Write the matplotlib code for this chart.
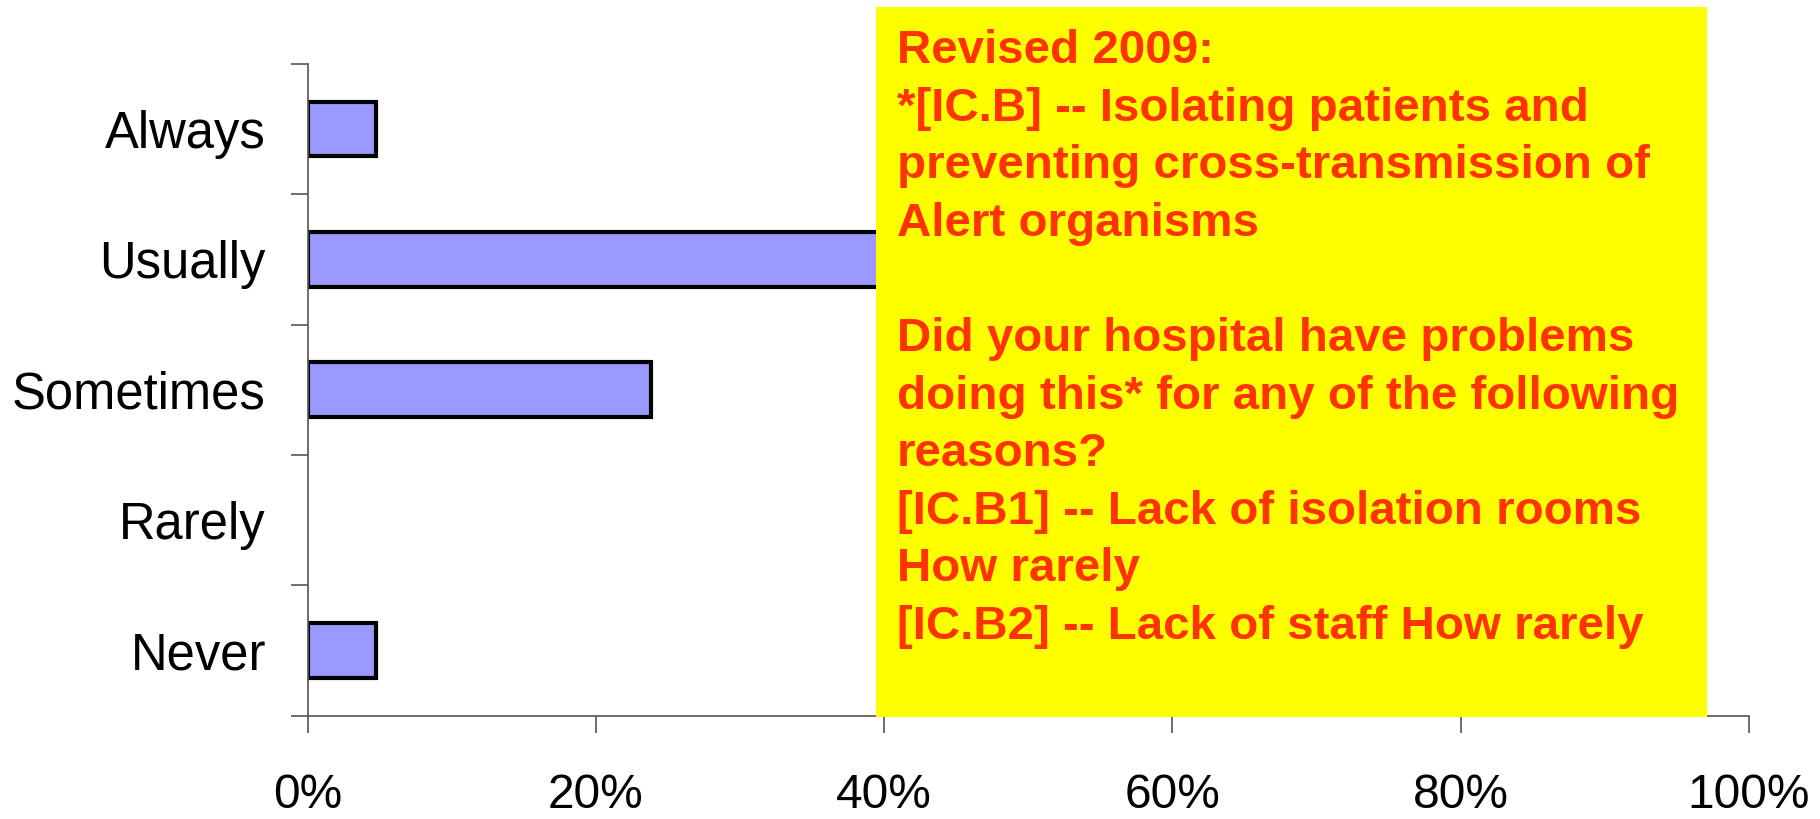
import matplotlib
matplotlib.use("Agg")
import matplotlib.pyplot as plt
from matplotlib.patches import Rectangle
import numpy as np

categories = ["Always", "Usually", "Sometimes", "Rarely", "Never"]
values = [4.76, 66.67, 23.81, 0.0, 4.76]
x_ticks = [0, 20, 40, 60, 80, 100]
x_labels = ["0%", "20%", "40%", "60%", "80%", "100%"]

note_lines = [
    "Revised 2009:",
    "*[IC.B] -- Isolating patients and",
    "preventing cross-transmission of",
    "Alert organisms",
    "",
    "Did your hospital have problems",
    "doing this* for any of the following",
    "reasons?",
    "[IC.B1] -- Lack of isolation rooms",
    "How rarely",
    "[IC.B2] -- Lack of staff How rarely",
]

plt.rcParams["font.family"] = ["Liberation Sans", "DejaVu Sans"]

fig = plt.figure(figsize=(18.2, 8.19), dpi=100)
ax = fig.add_axes([0.169, 0.126, 0.792, 0.796])

y = np.arange(len(categories))
edges = ["black" if v > 0 else "none" for v in values]
ax.barh(y, values, height=0.42, color="#9999FF", edgecolor=edges, linewidth=3)

ax.set_xlim(0, 100)
ax.set_ylim(len(categories) - 0.5, -0.5)

ax.set_xticks(x_ticks)
ax.set_xticklabels(x_labels, fontsize=34.5)
ax.tick_params(axis="x", direction="out", length=12, width=1.2, pad=29, color="#555555")

ax.set_yticks(y)
ax.set_yticklabels(categories, fontsize=36.5)
ax.tick_params(axis="y", which="major", length=0, pad=30)
ax.set_yticks(np.arange(-0.5, len(categories)), minor=True)
ax.tick_params(axis="y", which="minor", direction="out", length=12, width=1.2, color="#555555")

for side in ["top", "right"]:
    ax.spines[side].set_visible(False)
for side in ["left", "bottom"]:
    ax.spines[side].set_linewidth(1.2)
    ax.spines[side].set_color("#555555")

# yellow note box over the chart
box = Rectangle((876 / 1820, 1 - 717 / 819), (1707 - 876) / 1820, (717 - 7) / 819,
                transform=fig.transFigure, facecolor="#FFFF00", edgecolor="none", zorder=5)
fig.patches.append(box)
fig.text(897 / 1820, 1 - 29 / 819, "\n".join(note_lines), transform=fig.transFigure,
         fontsize=34.2, fontweight="bold", color="#FF3300", va="top", ha="left",
         linespacing=1.40, zorder=6)

fig.savefig("out.png", dpi=100)
